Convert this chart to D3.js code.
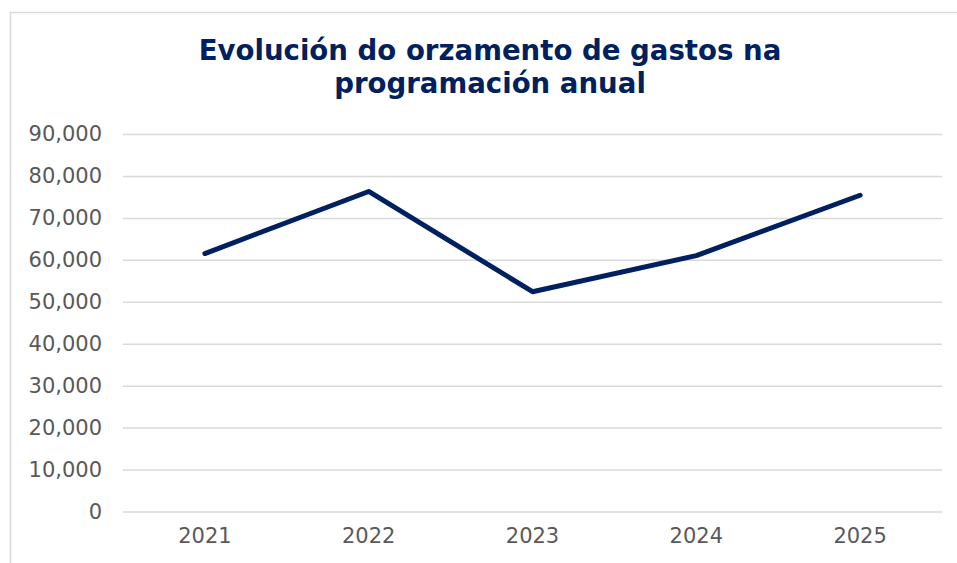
<!DOCTYPE html>
<html>
<head>
<meta charset="utf-8">
<script src="https://cdn.jsdelivr.net/npm/d3@7"></script>
<style>
body{margin:0;background:#fff}
svg{display:block}
</style>
</head>
<body>
<svg width="957" height="563"></svg>
<script>
const years=["2021","2022","2023","2024","2025"]
const gastos=[61500,76300,52400,61000,75400]
const yTicks=[0,10000,20000,30000,40000,50000,60000,70000,80000,90000]
const titleLines=["Evolución do orzamento de gastos na","programación anual"]

const svg=d3.select("svg")
const W=957,H=563
const m={l:123,r:942,t:134,b:511.5}

// chart frame (right/bottom edges fall outside the window)
svg.append("rect")
.attr("x",10.5).attr("y",12.5)
.attr("width",W+20).attr("height",H+20)
.attr("fill","#fff").attr("stroke","#d9d9d9").attr("stroke-width",1.5)

svg.append("text")
.attr("x",490).attr("y",59.5)
.attr("text-anchor","middle")
.attr("font-family","DejaVu Sans, Verdana, sans-serif")
.attr("font-weight","bold").attr("font-size",27.6)
.attr("fill","#002060")
.selectAll("tspan").data(titleLines).join("tspan")
.attr("x",490).attr("dy",(d,i)=>i?33.5:0)
.text(d=>d)

const x=d3.scaleBand().domain(years).range([m.l,m.r])
const y=d3.scaleLinear().domain([0,90000]).range([m.b,m.t])

const yAxis=svg.append("g")
.attr("transform",`translate(${m.l},0)`)
.call(d3.axisLeft(y).tickValues(yTicks).tickSize(-(m.r-m.l)).tickPadding(21)
.tickFormat(d3.format(",")))
yAxis.select(".domain").remove()
yAxis.selectAll(".tick line").attr("stroke","#d9d9d9").attr("stroke-width",1.5)
yAxis.selectAll(".tick text")
.attr("font-family","DejaVu Sans, Verdana, sans-serif").attr("font-size",21)
.attr("fill","#595959")

const xAxis=svg.append("g")
.attr("transform",`translate(0,${m.b})`)
.call(d3.axisBottom(x).tickSize(0).tickPadding(17))
xAxis.select(".domain").remove()
xAxis.selectAll(".tick text")
.attr("font-family","DejaVu Sans, Verdana, sans-serif").attr("font-size",21)
.attr("fill","#595959")

const line=d3.line()
.x((d,i)=>x(years[i])+x.bandwidth()/2)
.y(d=>y(d))

svg.append("path")
.datum(gastos)
.attr("d",line)
.attr("fill","none")
.attr("stroke","#002060")
.attr("stroke-width",5)
.attr("stroke-linecap","round")
.attr("stroke-linejoin","round")
</script>
</body>
</html>
